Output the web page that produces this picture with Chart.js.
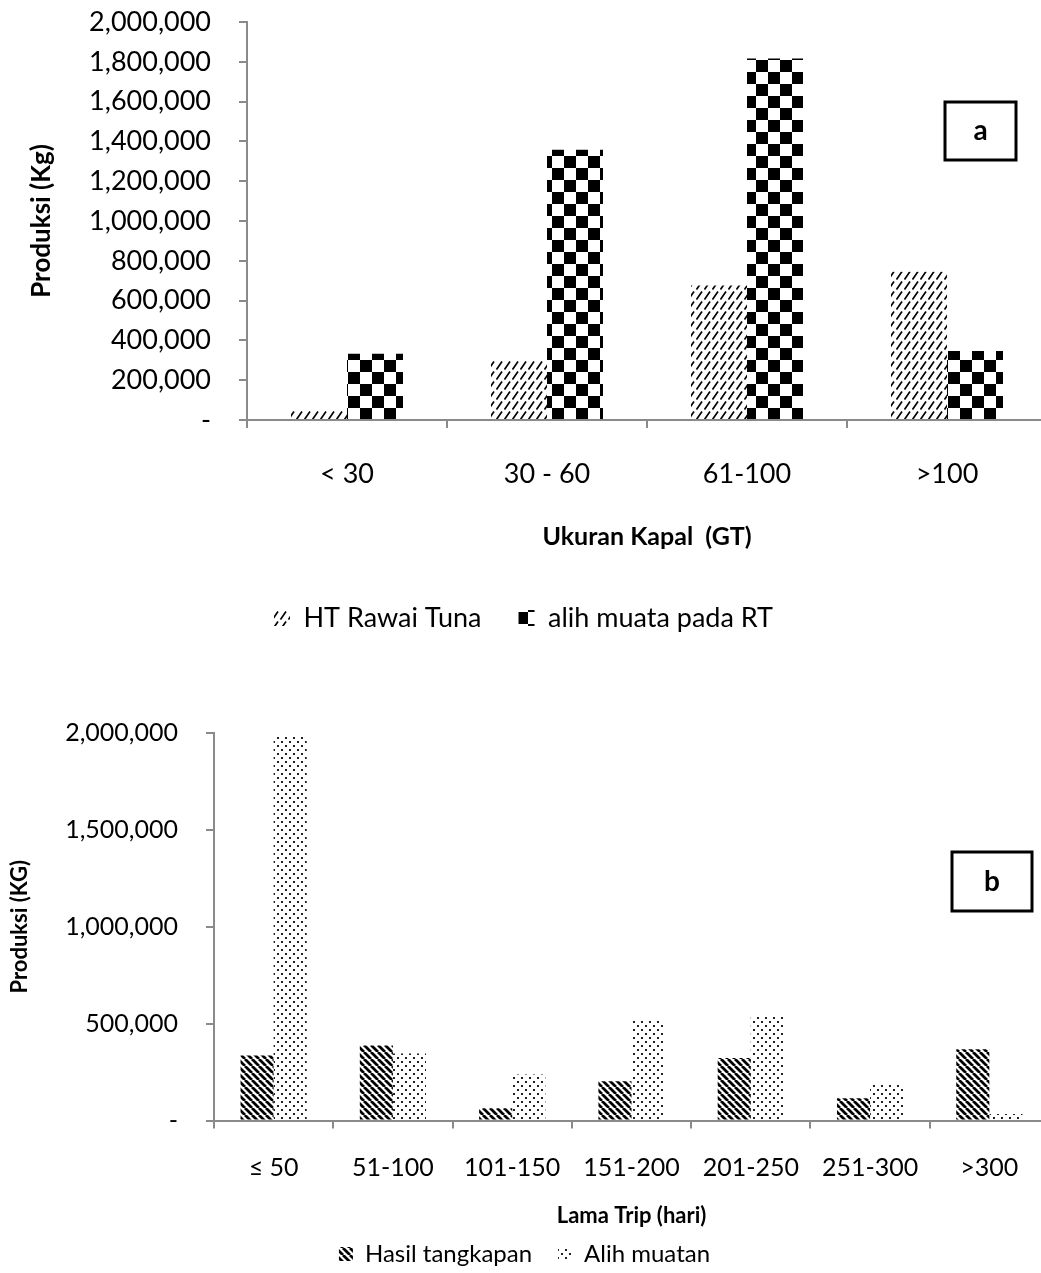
<!DOCTYPE html>
<html>
<head>
<meta charset="utf-8">
<script src="https://cdn.jsdelivr.net/npm/chart.js@4.4.1/dist/chart.umd.min.js"></script>
<style>
  html, body { margin: 0; padding: 0; background: #fff; overflow: hidden; }
  #wrap { position: relative; width: 1041px; height: 1273px; overflow: hidden; }
  #chartA { position: absolute; left: 0; top: 0; }
  #chartB { position: absolute; left: 0; top: 660px; }
</style>
</head>
<body>
<div id="wrap">
  <canvas id="chartA" width="1060" height="660"></canvas>
  <canvas id="chartB" width="1060" height="616"></canvas>
</div>
<script>
// chart a: production by vessel size
var sizeCats = ['< 30', '30 - 60', '61-100', '>100'];
var htRawaiTuna = [50000, 300000, 676000, 745000];
var alihMuataRT = [333000, 1358000, 1816000, 347000];

// chart b: production by trip length
var tripCats = ['\u2264 50', '51-100', '101-150', '151-200', '201-250', '251-300', '>300'];
var hasilTangkapan = [336000, 387000, 63000, 202000, 322000, 115000, 368000];
var alihMuatan = [1980000, 346000, 238000, 517000, 541000, 183000, 34000];

var yMax = 2000000;
var stepA = 200000;
var stepB = 500000;

Chart.defaults.font.family = 'Lato, sans-serif';
Chart.defaults.color = '#000';

var axisGrey = '#8a8a8a';

function makePattern(w, h, draw) {
    var c = document.createElement('canvas');
    c.width = w; c.height = h;
    var x = c.getContext('2d');
    x.fillStyle = '#fff';
    x.fillRect(0, 0, w, h);
    draw(x, w, h);
    return x.createPattern(c, 'repeat');
}

// dashed upward diagonal
var hatchUp = makePattern(8, 10, function (x) {
    x.strokeStyle = '#000';
    x.lineWidth = 1.7;
    x.beginPath();
    x.moveTo(0.5, 9.5);
    x.lineTo(6, 1.5);
    x.stroke();
});

// checkerboard
var checker = makePattern(24, 24, function (x) {
    x.fillStyle = '#000';
    x.fillRect(0, 0, 12, 12);
    x.fillRect(12, 12, 12, 12);
});

// wide downward diagonal
var stripeDown = makePattern(7, 7, function (x) {
    x.strokeStyle = '#000';
    x.lineWidth = 2.8;
    x.beginPath();
    [-7, 0, 7].forEach(function (o) {
        x.moveTo(o, 0);
        x.lineTo(o + 7, 7);
    });
    x.stroke();
});

// dotted
var dots = makePattern(8, 8, function (x) {
    x.fillStyle = '#222';
    x.fillRect(1, 1, 2, 2);
    x.fillRect(5, 5, 2, 2);
});

function fmtTick(v) {
    return v === 0 ? '-' : v.toLocaleString('en-US');
}

// legend items spaced apart without adding vertical padding
function spacedLabels(gap) {
    return function (chart) {
        var items = Chart.defaults.plugins.legend.labels.generateLabels(chart);
        items.forEach(function (it, i) {
            if (i < items.length - 1) it.text += gap;
        });
        return items;
    };
}

var labelBox = {
    id: 'labelBox',
    afterDraw: function (chart, args, o) {
        var ctx = chart.ctx;
        ctx.save();
        ctx.lineWidth = 3;
        ctx.strokeStyle = '#000';
        ctx.strokeRect(o.x, o.y, o.w, o.h);
        ctx.fillStyle = '#000';
        ctx.font = 'bold ' + o.size + 'px Lato, sans-serif';
        ctx.textAlign = 'center';
        ctx.textBaseline = 'middle';
        ctx.fillText(o.text, o.x + o.w / 2, o.y + o.h / 2);
        ctx.restore();
    }
};

function axisCommon() {
    return {
        grid: { drawOnChartArea: false, tickLength: 8, color: axisGrey, lineWidth: 2 },
        border: { color: axisGrey, width: 2 }
    };
}

var xA = axisCommon();
xA.ticks = { font: { size: 27 }, padding: 30 };
xA.title = { display: true, text: 'Ukuran Kapal  (GT)', font: { size: 25, weight: 'bold' }, padding: { top: 0, bottom: 42.5 } };
xA.afterFit = function (s) { s.height = 174.5; };

var yA = axisCommon();
yA.min = 0; yA.max = yMax;
yA.ticks = { stepSize: stepA, font: { size: 27 }, padding: 28, callback: fmtTick };
yA.title = { display: true, text: 'Produksi (Kg)', font: { size: 26, weight: 'bold' }, padding: { top: 26, bottom: 0 } };
yA.afterFit = function (s) { s.width = 247; s.paddingTop = 0; s.paddingBottom = 0; };

new Chart(document.getElementById('chartA'), {
    type: 'bar',
    data: {
        labels: sizeCats,
        datasets: [
            { label: 'HT Rawai Tuna', data: htRawaiTuna, backgroundColor: hatchUp, borderWidth: 0 },
            { label: 'alih muata pada RT', data: alihMuataRT, backgroundColor: checker, borderWidth: 0 }
        ]
    },
    options: {
        responsive: false,
        animation: false,
        categoryPercentage: 0.56,
        barPercentage: 1.0,
        layout: { padding: { top: 22, right: 13, left: 0, bottom: 18.5 } },
        scales: { x: xA, y: yA },
        plugins: {
            legend: {
                position: 'bottom',
                labels: {
                    font: { size: 27 }, boxWidth: 16, boxHeight: 16, padding: 10,
                    generateLabels: spacedLabels('\u2003\u2005')
                }
            },
            tooltip: { enabled: false },
            labelBox: { x: 945, y: 102, w: 71, h: 58, text: 'a', size: 28 }
        }
    },
    plugins: [labelBox]
});

var xB = axisCommon();
xB.ticks = { font: { size: 25 }, padding: 24 };
xB.title = { display: true, text: 'Lama Trip (hari)', font: { size: 22, weight: 'bold' }, padding: { top: 0, bottom: 4.8 } };
xB.afterFit = function (s) { s.height = 113.5; };

var yB = axisCommon();
yB.min = 0; yB.max = yMax;
yB.ticks = { stepSize: stepB, font: { size: 25 }, padding: 28, callback: fmtTick };
yB.title = { display: true, text: 'Produksi (KG)', font: { size: 22, weight: 'bold' }, padding: { top: 7, bottom: 0 } };
yB.afterFit = function (s) { s.width = 214; s.paddingTop = 0; s.paddingBottom = 0; };

new Chart(document.getElementById('chartB'), {
    type: 'bar',
    data: {
        labels: tripCats,
        datasets: [
            { label: 'Hasil tangkapan', data: hasilTangkapan, backgroundColor: stripeDown, borderWidth: 0 },
            { label: 'Alih muatan', data: alihMuatan, backgroundColor: dots, borderWidth: 0 }
        ]
    },
    options: {
        responsive: false,
        animation: false,
        categoryPercentage: 0.555,
        barPercentage: 1.0,
        layout: { padding: { top: 73, right: 11, left: 0, bottom: 0 } },
        scales: { x: xB, y: yB },
        plugins: {
            legend: {
                position: 'bottom',
                labels: {
                    font: { size: 24 }, boxWidth: 14, boxHeight: 14, padding: 8,
                    generateLabels: spacedLabels('\u2003')
                }
            },
            tooltip: { enabled: false },
            labelBox: { x: 952, y: 192, w: 80, h: 59, text: 'b', size: 28 }
        }
    },
    plugins: [labelBox]
});
</script>
</body>
</html>
